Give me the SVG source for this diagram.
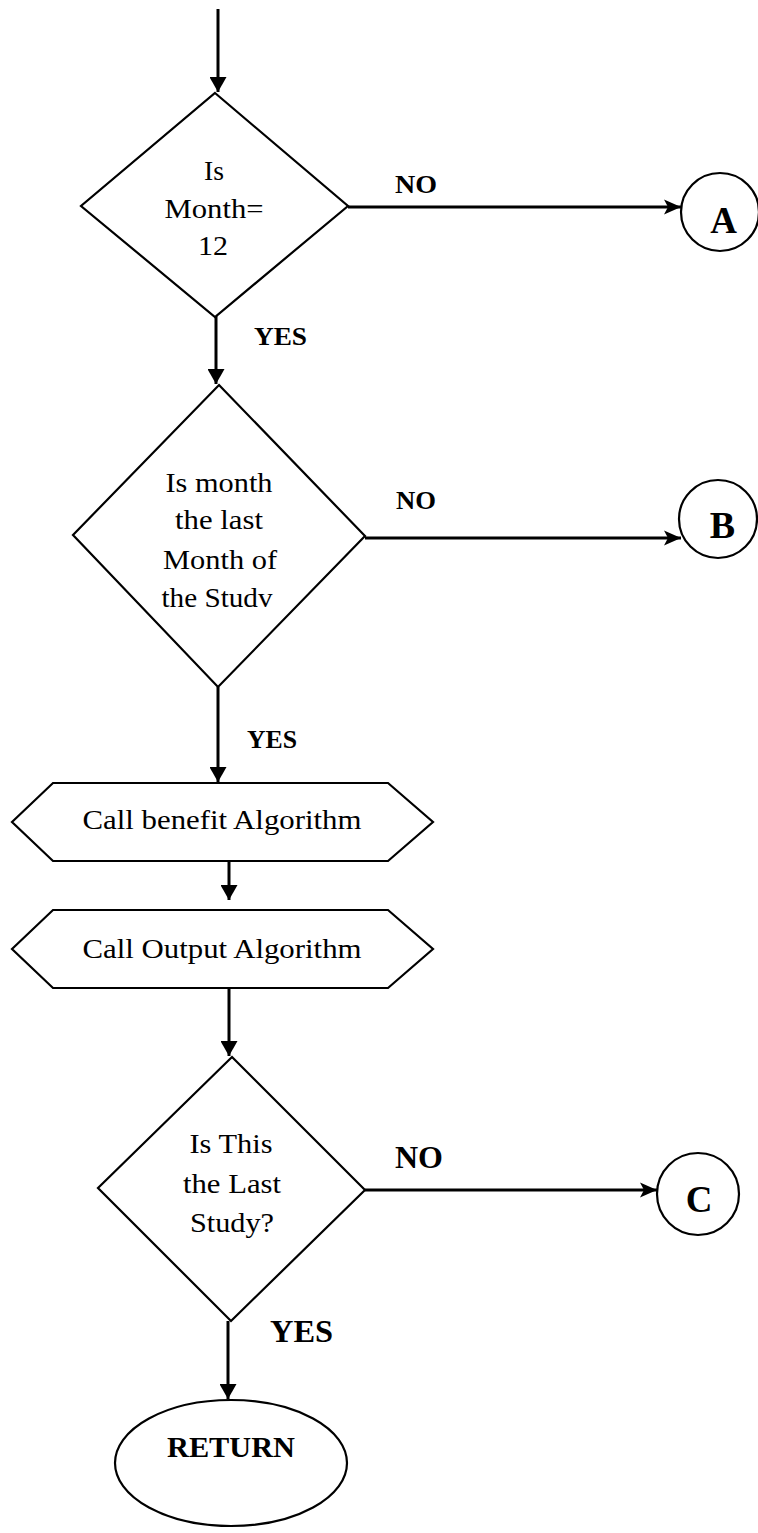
<svg xmlns="http://www.w3.org/2000/svg" width="758" height="1533" viewBox="0 0 758 1533">
<style>
  .shape { fill: #fff; stroke: #000; stroke-width: 2.2; }
  .conn { fill: none; stroke: #000; stroke-width: 3; }
  .t { font-family: "Liberation Serif", "Times New Roman", serif; font-size: 28px; fill: #000; text-anchor: middle; }
  .b { font-family: "Liberation Serif", "Times New Roman", serif; font-weight: bold; fill: #000; }
</style>
<defs>
  <marker id="vh" markerUnits="userSpaceOnUse" markerWidth="16" markerHeight="17" refX="15" refY="8.5" orient="auto" viewBox="0 0 16 17">
    <path d="M0,0 L15,8.5 L0,17 z" fill="#000"/>
  </marker>
  <marker id="hh" markerUnits="userSpaceOnUse" markerWidth="18" markerHeight="16" refX="17" refY="8" orient="auto" viewBox="0 0 18 16">
    <path d="M0,0.5 L17,8 L0,15.5 L4,8 z" fill="#000"/>
  </marker>
</defs>
<rect width="758" height="1533" fill="#fff"/>

<g id="connectors">
  <line class="conn" x1="218" y1="9" x2="218" y2="92" marker-end="url(#vh)"/>
  <line class="conn" x1="216" y1="316" x2="216" y2="384" marker-end="url(#vh)"/>
  <line class="conn" x1="218" y1="687" x2="218" y2="782" marker-end="url(#vh)"/>
  <line class="conn" x1="229" y1="861" x2="229" y2="900" marker-end="url(#vh)"/>
  <line class="conn" x1="229" y1="988" x2="229" y2="1056" marker-end="url(#vh)"/>
  <line class="conn" x1="228" y1="1321" x2="228" y2="1399" marker-end="url(#vh)"/>
  <line class="conn" x1="348" y1="207" x2="681" y2="207" stroke-width="3.5" marker-end="url(#hh)"/>
  <line class="conn" x1="365" y1="538" x2="681" y2="538" stroke-width="3.5" marker-end="url(#hh)"/>
  <line class="conn" x1="365" y1="1190" x2="657" y2="1190" stroke-width="3.5" marker-end="url(#hh)"/>
  <text class="b" x="395" y="193" font-size="26" textLength="42" lengthAdjust="spacingAndGlyphs">NO</text>
  <text class="b" x="254" y="345" font-size="26" textLength="53" lengthAdjust="spacingAndGlyphs">YES</text>
  <text class="b" x="396" y="509" font-size="26" textLength="40" lengthAdjust="spacingAndGlyphs">NO</text>
  <text class="b" x="247" y="748" font-size="25" textLength="50" lengthAdjust="spacingAndGlyphs">YES</text>
  <text class="b" x="395" y="1168" font-size="31" textLength="48" lengthAdjust="spacingAndGlyphs">NO</text>
  <text class="b" x="270" y="1342" font-size="31" textLength="63" lengthAdjust="spacingAndGlyphs">YES</text>
</g>

<g id="decision1">
  <polygon class="shape" points="215,93 348,206 215,317 81,206"/>
  <text class="t" x="214" y="180" textLength="20" lengthAdjust="spacingAndGlyphs">Is</text>
  <text class="t" x="214" y="218" textLength="99" lengthAdjust="spacingAndGlyphs">Month=</text>
  <text class="t" x="213" y="255" textLength="30" lengthAdjust="spacingAndGlyphs">12</text>
</g>

<g id="connectorA">
  <circle class="shape" cx="720" cy="212" r="39"/>
  <text class="b" x="723.5" y="233" font-size="37" text-anchor="middle">A</text>
</g>

<g id="decision2">
  <polygon class="shape" points="219,385 365,536 218,687 73,535"/>
  <text class="t" x="219" y="492" font-size="27" textLength="107" lengthAdjust="spacingAndGlyphs">Is month</text>
  <text class="t" x="219" y="529" font-size="27" textLength="88" lengthAdjust="spacingAndGlyphs">the last</text>
  <text class="t" x="220" y="569" font-size="27" textLength="114" lengthAdjust="spacingAndGlyphs">Month of</text>
  <text class="t" x="217" y="607" font-size="27" textLength="111" lengthAdjust="spacingAndGlyphs">the Studv</text>
</g>

<g id="connectorB">
  <circle class="shape" cx="718" cy="519" r="39"/>
  <text class="b" x="722.5" y="538" font-size="38" text-anchor="middle">B</text>
</g>

<g id="callBenefit">
  <polygon class="shape" points="12,822 53,783 388,783 433,822 388,861 53,861"/>
  <text class="t" x="222" y="829" textLength="279" lengthAdjust="spacingAndGlyphs">Call benefit Algorithm</text>
</g>

<g id="callOutput">
  <polygon class="shape" points="12,949 53,910 388,910 433,949 388,988 53,988"/>
  <text class="t" x="222" y="958" textLength="279" lengthAdjust="spacingAndGlyphs">Call Output Algorithm</text>
</g>

<g id="decision3">
  <polygon class="shape" points="232,1057 365,1190 231,1321 98,1188"/>
  <text class="t" x="231" y="1153" font-size="29" textLength="83" lengthAdjust="spacingAndGlyphs">Is This</text>
  <text class="t" x="232" y="1193" font-size="29" textLength="98" lengthAdjust="spacingAndGlyphs">the Last</text>
  <text class="t" x="232" y="1232" font-size="29" textLength="84" lengthAdjust="spacingAndGlyphs">Study?</text>
</g>

<g id="connectorC">
  <circle class="shape" cx="698" cy="1194" r="41"/>
  <text class="b" x="699" y="1212" font-size="37" text-anchor="middle">C</text>
</g>

<g id="returnNode">
  <ellipse class="shape" cx="231" cy="1463" rx="116" ry="63"/>
  <text class="b" x="231" y="1457" font-size="30" text-anchor="middle" textLength="128" lengthAdjust="spacingAndGlyphs">RETURN</text>
</g>
</svg>
